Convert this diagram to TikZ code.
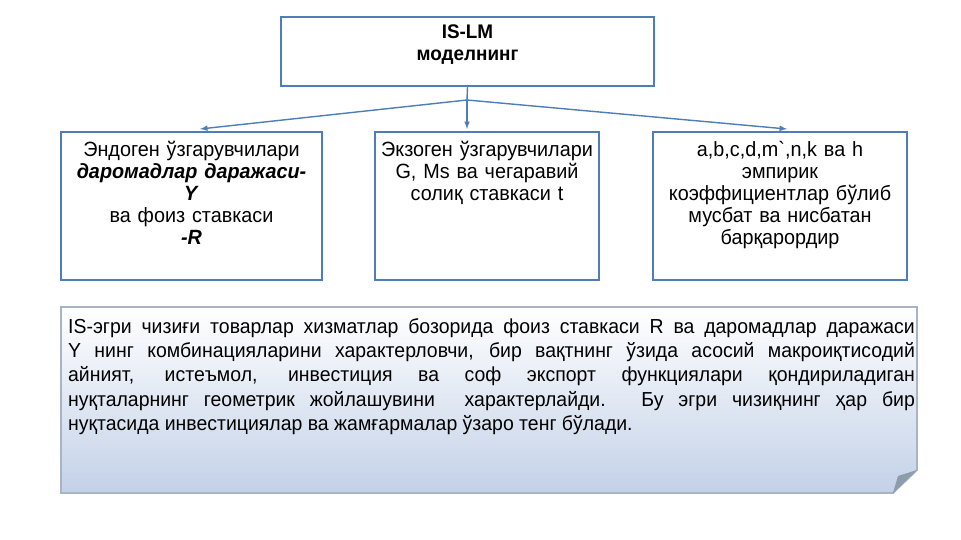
\documentclass[tikz,border=0pt]{standalone}
\usepackage{fontspec}
\setmainfont{Liberation Sans}[FakeStretch=0.96]
\usetikzlibrary{positioning}
\definecolor{boxline}{HTML}{4F7DB8}
\definecolor{notefill}{HTML}{C3D1E8}
\definecolor{noteline}{HTML}{A8B4C4}
\definecolor{foldgray}{HTML}{8E9BAA}
\tikzset{
    box/.style={draw=boxline, line width=1.6pt, minimum height=4.44cm},
    boxtext/.style={below=5pt, align=center, font=\fontsize{17.6}{18.8}\selectfont},
    link/.style={-latex, draw=boxline, line width=1.2pt}
}
\begin{document}
\begin{tikzpicture}[x=0.03cm, y=-0.03cm]
    \useasboundingbox (0,0) rectangle (961,540);

    % Top box
    \node[box, minimum width=11.19cm, minimum height=2.07cm] (model) at (467.5,51.5) {};
    \node[boxtext, below=4pt, font=\bfseries\fontsize{16.8}{18.8}\selectfont] (modeltxt) at (model.north) {IS-LM\\моделнинг};

    % Three boxes
    \node[box, minimum width=7.83cm] (endo) at (191.5,206) {};
    \node[boxtext, text width=7.8cm] at (endo.north) {Эндоген ўзгарувчилари\\\textbf{\textit{даромадлар даражаси-}}\\\textbf{\textit{Y}}\\ва фоиз ставкаси\\\textbf{\textit{-R}}};

    \node[box, minimum width=6.72cm] (exo) at (487,206) {};
    \node[boxtext, text width=6.7cm] at (exo.north) {Экзоген ўзгарувчилари\\G, Ms ва чегаравий\\солиқ ставкаси t};

    \node[box, minimum width=7.62cm] (coef) at (780,206) {};
    \node[boxtext, text width=7.5cm] at (coef.north) {a,b,c,d,m\textasciigrave,n,k ва h\\эмпирик\\коэффициентлар бўлиб\\мусбат ва нисбатан\\барқарордир};

    % Arrows
    \coordinate (fork) at (467,100);
    \draw[draw=boxline, line width=1.2pt] (model.south) -- (fork);
    \draw[link] (fork) -- (200,129);
    \draw[link] (fork) -- (467,129);
    \draw[link] (fork) -- (787,129);

    % Note with folded corner
    \shade[top color=white, bottom color=notefill] (61,307) -- (917,307) -- (917,470) -- (893,493) -- (61,493) -- cycle;
    \draw[noteline, line width=1.5pt] (61,307) -- (917,307) -- (917,470) -- (893,493) -- (61,493) -- cycle;
    \fill[foldgray] (917,470) -- (893,493) -- (898,476) -- cycle;
    \node[anchor=north west, text width=25.4cm, align=justify, font=\fontsize{17.3}{20.9}\selectfont] (note) at (64,314)
        {IS-эгри чизиғи товарлар хизматлар бозорида фоиз ставкаси R ва даромадлар даражаси\linebreak
         Y нинг комбинацияларини характерловчи, бир вақтнинг ўзида асосий макроиқтисодий\linebreak
         айният, истеъмол, инвестиция ва соф экспорт функциялари қондириладиган\linebreak
         нуқталарнинг геометрик жойлашувини \ характерлайди. Бу эгри чизиқнинг ҳар бир\linebreak
         нуқтасида инвестициялар ва жамғармалар ўзаро тенг бўлади.};
\end{tikzpicture}
\end{document}
